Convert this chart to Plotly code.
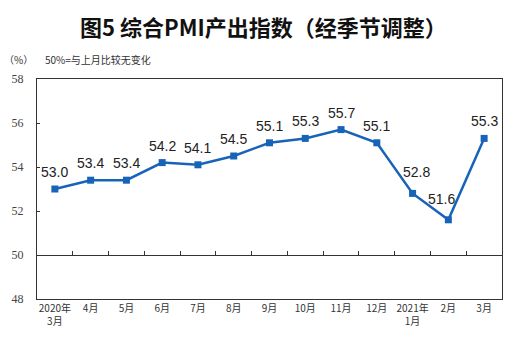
import plotly.graph_objects as go

categories = ["2020年<br>3月", "4月", "5月", "6月", "7月", "8月", "9月", "10月",
              "11月", "12月", "2021年<br>1月", "2月", "3月"]
values = [53.0, 53.4, 53.4, 54.2, 54.1, 54.5, 55.1, 55.3, 55.7, 55.1, 52.8, 51.6, 55.3]
label_dx = [0, 0, 0, 0, 0, 0, 0, 0, 0, 0, 4, -7, 0]
label_dy = [17, 17, 17, 17, 17, 17, 17, 17, 17, 17, 21, 21, 17]
y_ticks = [48, 50, 52, 54, 56, 58]

blue = "#1763b8"
fig = go.Figure()
fig.add_trace(go.Scatter(
    x=categories, y=values, mode="lines+markers",
    line=dict(color=blue, width=2.5),
    marker=dict(symbol="square", size=7, color=blue),
    showlegend=False, hoverinfo="skip",
))
# invisible trace for the x-axis crossing at 50
fig.add_trace(go.Scatter(x=categories, y=values, xaxis="x2", mode="none",
                         showlegend=False, hoverinfo="skip"))

annotations = [
    dict(text="<b>图5 综合PMI产出指数（经季节调整）</b>", x=(263.5 - 37) / 465, y=1 + (79 - 26) / 220,
         xref="paper", yref="paper", yanchor="middle",
         showarrow=False, font=dict(size=22, color="#111")),
    dict(text="（%）", xref="paper", yref="paper", x=-0.075, y=1 + (79 - 60) / 220,
         xanchor="left", yanchor="middle",
         showarrow=False, font=dict(size=10, color="#333")),
    dict(text="50%=与上月比较无变化", xref="paper", yref="paper", x=0.012, y=1 + (79 - 59) / 220,
         xanchor="left", yanchor="middle",
         showarrow=False, font=dict(size=10, color="#333")),
]
for c, v, dx, dy in zip(categories, values, label_dx, label_dy):
    annotations.append(dict(x=c, y=v, text=f"{v:.1f}", showarrow=False,
                            xshift=dx, yshift=dy, yanchor="middle",
                            font=dict(family="Liberation Sans, Arial", size=14, color="#222")))

fig.update_layout(
    width=527, height=352,
    margin=dict(l=37, r=25, t=79, b=53),
    paper_bgcolor="white", plot_bgcolor="white",
    font=dict(family="Noto Sans CJK SC, Liberation Sans", color="#333"),
    xaxis=dict(type="category", categoryorder="array", categoryarray=categories,
               showline=True, linecolor="#333", linewidth=1, mirror=True,
               ticks="", showgrid=False, tickfont=dict(size=10, color="#333"),
               range=[-0.5, len(categories) - 0.5]),
    xaxis2=dict(type="category", categoryorder="array", categoryarray=categories,
                overlaying="x", anchor="free", position=0.2,
                showline=True, linecolor="#333", linewidth=1,
                ticks="inside", ticklen=4, tickcolor="#333", tickson="boundaries",
                showticklabels=False, showgrid=False,
                range=[-0.5, len(categories) - 0.5]),
    yaxis=dict(range=[48, 58], tickvals=y_ticks, showgrid=False,
               showline=True, linecolor="#333", linewidth=1, mirror=True,
               ticks="inside", ticklen=3, tickcolor="#333", ticklabelstandoff=10,
               tickfont=dict(family="Liberation Serif, Times New Roman", size=12, color="#444"),
               zeroline=False),
    annotations=annotations,
)
fig.write_html("out.html")
